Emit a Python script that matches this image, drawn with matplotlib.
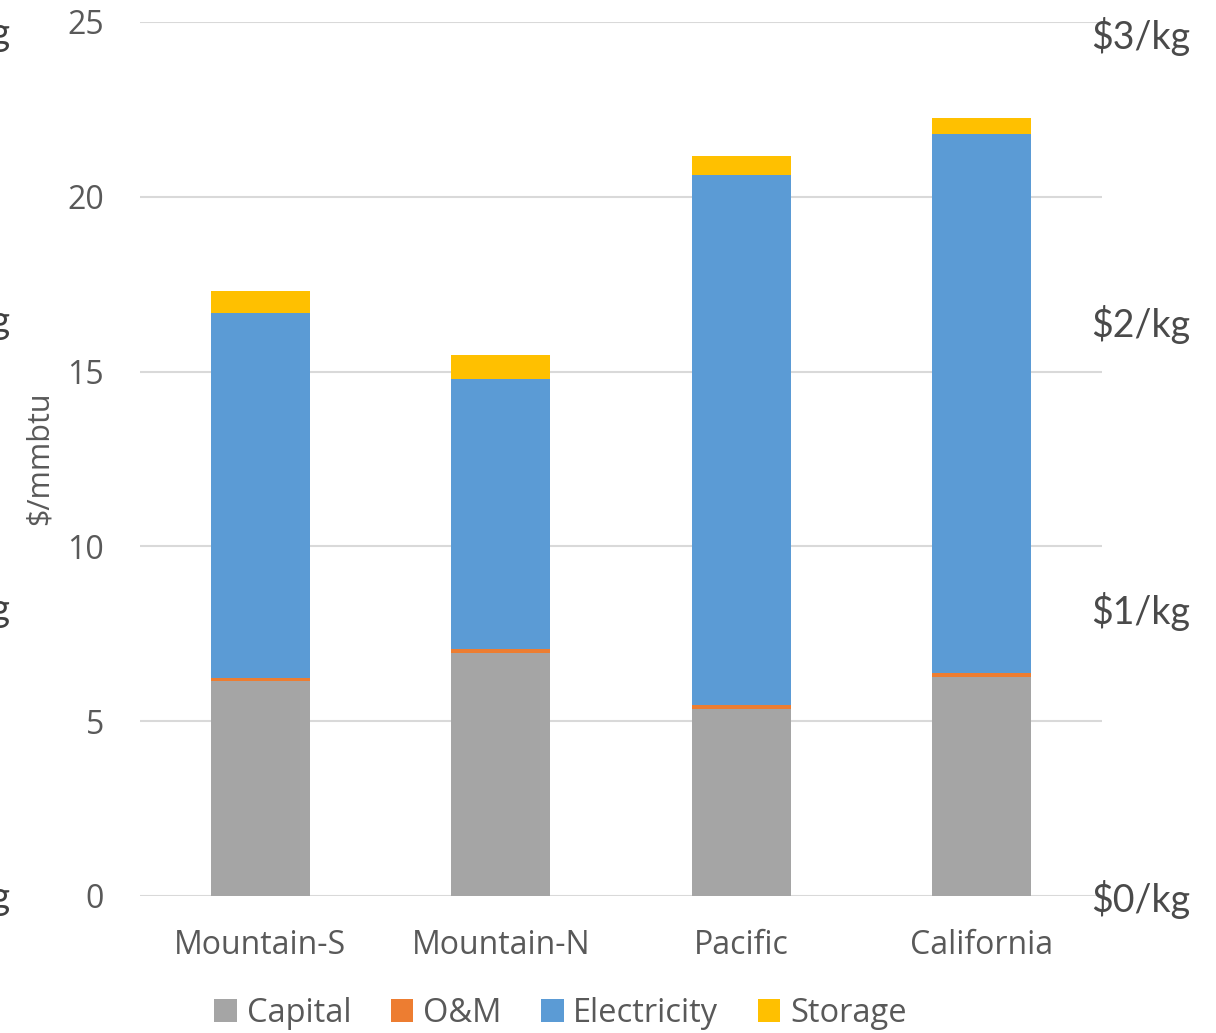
import numpy as np
import matplotlib.pyplot as plt

regions = ['Mountain-S', 'Mountain-N', 'Pacific', 'California']
capital = [6.15, 6.95, 5.35, 6.26]
om = [0.10, 0.12, 0.11, 0.12]
electricity = [10.43, 7.72, 15.16, 15.42]
storage = [0.62, 0.68, 0.55, 0.45]

kg_labels = ['$0/kg', '$1/kg', '$2/kg', '$3/kg']
mmbtu_per_kg = 8.23

colors = {'Capital': '#A5A5A5', 'O&M': '#ED7D31',
          'Electricity': '#5B9BD5', 'Storage': '#FFC000'}
txt = '#595959'

fig = plt.figure(figsize=(12.16, 10.33), dpi=100)
ax = fig.add_axes([140/1216, 1 - 896/1033, 962/1216, 874/1033])

x = np.arange(len(regions))
w = 0.41
bottom = np.zeros(len(regions))
for name, vals in [('Capital', capital), ('O&M', om),
                   ('Electricity', electricity), ('Storage', storage)]:
    ax.bar(x, vals, w, bottom=bottom, color=colors[name], label=name, zorder=3)
    bottom += np.array(vals)

ax.set_xlim(-0.5, 3.5)
ax.set_ylim(0, 25)
ax.set_yticks(range(0, 26, 5))
ax.set_xticks(x)
ax.set_xticklabels(regions, fontfamily='Open Sans', fontsize=23, color=txt)
for lab in ax.get_yticklabels():
    lab.set_fontfamily('Open Sans')
    lab.set_fontsize(23)
    lab.set_color(txt)
ax.tick_params(axis='both', length=0)
ax.tick_params(axis='y', pad=26)
ax.tick_params(axis='x', pad=24)
ax.grid(axis='y', color='#D9D9D9', linewidth=1.5, zorder=0)
for s in ax.spines.values():
    s.set_visible(False)

fig.text(40/1216, 1 - 458/1033, '$/mmbtu', rotation=90, ha='center', va='center',
         fontfamily='Open Sans', fontsize=22, color=txt)

# right-hand $/kg scale
ax2 = ax.twinx()
ax2.set_ylim(0, 25 / mmbtu_per_kg)
ax2.set_yticks(range(len(kg_labels)))
ax2.set_yticklabels(kg_labels, fontfamily='Lato', fontsize=27, color='#4a4a4a')
ax2.tick_params(axis='y', length=0, pad=-8)
for s in ax2.spines.values():
    s.set_visible(False)

# clipped labels from the neighbouring chart on the left edge
for i, lab in enumerate(kg_labels):
    yv = i * mmbtu_per_kg
    yfig = (1 - 896/1033) + yv / 25 * (874/1033)
    fig.text(10/1216, yfig, lab, ha='right', va='center',
             fontfamily='Lato', fontsize=27, color='#404040')

handles, labels = ax.get_legend_handles_labels()
fig.legend(handles, labels, loc='center', bbox_to_anchor=(0.461, 1 - 1013/1033),
           ncol=4, frameon=False, prop={'family': 'Open Sans', 'size': 23.5},
           labelcolor=txt, handlelength=0.7, handleheight=0.7,
           handletextpad=0.3, columnspacing=1.2)

fig.savefig('out.png', dpi=100)
